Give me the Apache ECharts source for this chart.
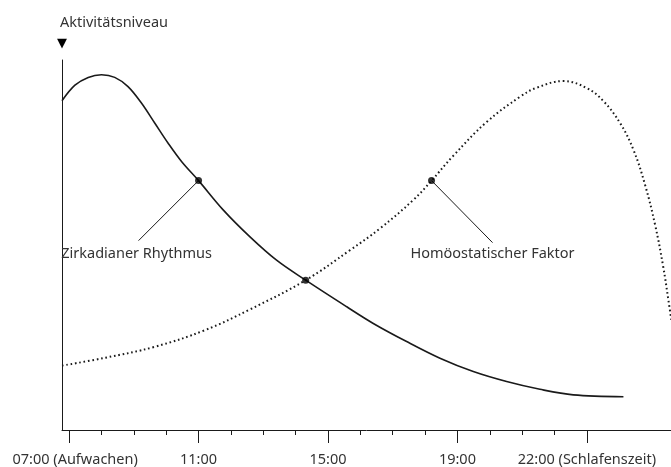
<!DOCTYPE html>
<html>
<head>
<meta charset="utf-8">
<script src="https://cdn.jsdelivr.net/npm/echarts@6/dist/echarts.min.js"></script>
<style>
html,body{margin:0;padding:0;background:#fff;}
#chart{width:671px;height:467px;}
</style>
</head>
<body>
<div id="chart"></div>
<script>
// Hours after 07:00
var circadianHours  = [-0.22, 0.18, 0.59, 1.0, 1.41, 1.82, 2.24, 2.65, 3.06, 3.48, 4.0, 4.76, 5.59, 6.41, 7.31, 8.58, 9.40, 10.43, 11.46, 12.49, 13.52, 14.55, 15.58, 17.13];
var circadianValues = [89.0, 93.2, 95.3, 96.0, 95.3, 92.8, 88.3, 82.9, 77.5, 72.5, 67.4, 59.5, 52.2, 45.9, 40.5, 33.3, 28.8, 23.9, 19.4, 15.8, 13.1, 11.0, 9.5, 9.0];

var homeostaticHours  = [-0.22, 1.10, 2.65, 4.20, 5.59, 7.31, 8.68, 9.61, 10.64, 11.20, 11.87, 12.91, 13.94, 14.45, 15.27, 16.0, 16.51, 17.03, 17.44, 17.80, 18.11, 18.36, 18.52, 18.62];
var homeostaticValues = [17.4, 19.5, 22.5, 27.0, 32.6, 40.5, 48.6, 54.5, 62.2, 67.4, 74.1, 83.3, 90.1, 92.5, 94.3, 92.4, 88.9, 82.9, 75.7, 66.2, 55.4, 44.1, 35.1, 29.2];

var markerHours  = [4.0, 7.31, 11.20];
var markerValues = [67.4, 40.5, 67.4];

var annotationHours  = [4.0, 11.20];
var annotationValues = [67.4, 67.4];
var annotationLabels = ['Zirkadianer Rhythmus', 'Homöostatischer Faktor'];

var majorTickHours = [0, 4, 8, 12, 16];
var tickLabels = ['07:00 (Aufwachen)', '11:00', '15:00', '19:00', '22:00 (Schlafenszeit)'];
var minorTickHours = [0,1,2,3,4,5,6,7,8,9,10,11,12,13,14,15,16];

var yTitle = 'Aktivitätsniveau';

function zip(a, b) { return a.map(function (v, i) { return [v, b[i]]; }); }

var FONT = '"Noto Sans", Roboto, sans-serif';
var FS = 14.5;
var INK = '#1a1a1a';
var TEXT = '#333';
// leader line / label offsets in pixels (style)
var annotationStyle = [
  {lx: -60, ly: 60, tx: -62, ty: 73},
  {lx: 61, ly: 62, tx: 61, ty: 73}
];

var chart = echarts.init(document.getElementById('chart'), null, {renderer: 'canvas'});
chart.setOption({
  animation: false,
  backgroundColor: '#fff',
  textStyle: {fontFamily: FONT},
  title: {
    text: yTitle,
    left: 55, top: 10,
    textStyle: {fontFamily: FONT, fontSize: FS, fontWeight: 'normal', color: TEXT}
  },
  grid: {left: 62, right: 0, top: 60, bottom: 37, containLabel: false},
  xAxis: [{
    type: 'value', min: -0.22, max: 18.6,
    axisLine: {show: true, onZero: false, lineStyle: {color: INK, width: 1}},
    splitLine: {show: false},
    axisTick: {show: true, customValues: majorTickHours, length: 13, lineStyle: {color: INK, width: 1}},
    axisLabel: {
      show: true, customValues: majorTickHours, margin: 22,
      fontFamily: FONT, fontSize: FS, color: TEXT,
      formatter: function (v) {
        var i = majorTickHours.indexOf(Math.round(v));
        if (i === 0) return '{sp|}' + tickLabels[i];
        return i >= 0 ? tickLabels[i] : '';
      },
      rich: {sp: {width: 12}}
    }
  }, {
    type: 'value', min: -0.22, max: 18.6, position: 'bottom',
    axisLine: {show: false, onZero: false},
    splitLine: {show: false},
    axisTick: {show: true, customValues: minorTickHours, length: 5, lineStyle: {color: INK, width: 1}},
    axisLabel: {show: false}
  }],
  yAxis: {
    type: 'value', min: 0, max: 100,
    name: '▼', nameLocation: 'end', nameGap: 10,
    nameTextStyle: {fontFamily: 'DejaVu Sans', fontSize: 13, color: '#000', align: 'center'},
    axisLine: {show: true, onZero: false, lineStyle: {color: INK, width: 1}},
    axisTick: {show: false},
    axisLabel: {show: false},
    splitLine: {show: false}
  },
  series: [{
    type: 'line', name: 'Zirkadianer Rhythmus',
    data: zip(circadianHours, circadianValues),
    smooth: 0.35, showSymbol: false, symbol: 'none',
    lineStyle: {color: INK, width: 1.6},
    z: 3
  }, {
    type: 'line', name: 'Homöostatischer Faktor',
    data: zip(homeostaticHours, homeostaticValues),
    smooth: 0.4, showSymbol: false, symbol: 'none',
    lineStyle: {color: INK, width: 2, type: [1.6, 2.8]},
    z: 3
  }, {
    type: 'custom',
    data: zip(annotationHours, annotationValues),
    z: 4,
    silent: true,
    renderItem: function (params, api) {
      var p = api.coord([api.value(0), api.value(1)]);
      var s = annotationStyle[params.dataIndex];
      return {
        type: 'group',
        children: [{
          type: 'line',
          shape: {x1: p[0], y1: p[1], x2: p[0] + s.lx, y2: p[1] + s.ly},
          style: {stroke: INK, lineWidth: 1}
        }, {
          type: 'text',
          x: p[0] + s.tx, y: p[1] + s.ty,
          style: {
            text: annotationLabels[params.dataIndex],
            fontFamily: FONT, fontSize: FS, fill: TEXT,
            align: 'center', verticalAlign: 'middle'
          }
        }]
      };
    }
  }, {
    type: 'scatter',
    data: zip(markerHours, markerValues),
    symbol: 'circle', symbolSize: 7,
    itemStyle: {color: '#000'},
    z: 5,
    silent: true,
    emphasis: {disabled: true}
  }]
});
</script>
</body>
</html>
